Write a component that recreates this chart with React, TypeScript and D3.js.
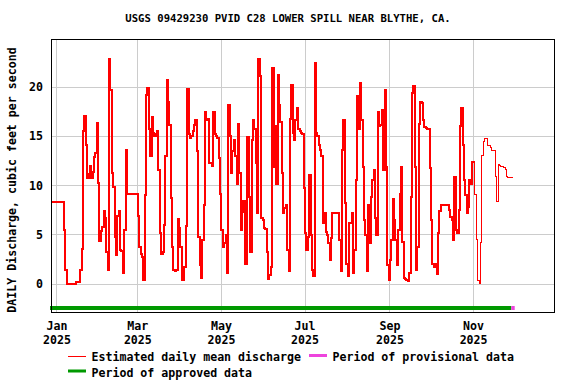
import React from "react";
import * as d3 from "d3";

// ---- data -------------------------------------------------------------
const title = "USGS 09429230 PVID C28 LOWER SPILL NEAR BLYTHE, CA.";
const yTitle = "DAILY Discharge, cubic feet per second";
const yTicks = [0, 5, 10, 15, 20];

// daily mean discharge (cfs), one value per day, starting 2024-12-28
const dec2024 = [8.3, 8.3, 8.3, 8.3];
const jan = [8.3, 8.3, 8.3, 8.3, 8.3, 5.5, 1.4, 0, 0, 0, 0, 0, 0, 0, 0.2, 0.2, 0.2, 1.4, 3.6, 15.5, 17.1, 14.1, 10.8, 11.2, 12.0, 10.8, 11.4, 12.9, 13.3, 16.4, 10.3];
const feb = [4.4, 5.4, 5.8, 7.4, 6.7, 3.3, 1.4, 22.8, 19.7, 11.3, 9.9, 4.8, 3.0, 6.9, 7.4, 3.5, 3.4, 1.1, 5.5, 13.6, 9.2, 9.2, 9.2, 9.2, 9.2, 9.2, 9.2, 9.2];
const mar = [6.9, 3.8, 3.1, 2.8, 0.4, 9.1, 19.2, 19.9, 15.7, 13.0, 17.0, 15.3, 15.0, 15.2, 15.5, 11.6, 5.2, 3.1, 3.3, 6.0, 13.0, 20.7, 18.5, 16.2, 8.7, 3.8, 1.4, 1.3, 1.4, 6.6, 5.7];
const apr = [3.8, 0.4, 0.4, 1.8, 5.9, 19.8, 15.2, 14.8, 15.0, 15.5, 16.2, 16.7, 13.5, 4.8, 2.0, 0.6, 4.5, 8.0, 17.5, 16.7, 16.8, 12.3, 12.3, 12.0, 17.5, 15.2, 15.0, 14.8, 12.8, 9.2];
const may = [5.5, 3.8, 4.2, 5.0, 1.1, 18.2, 15.0, 11.3, 13.5, 14.6, 13.0, 10.2, 16.3, 11.3, 5.5, 7.3, 8.4, 2.1, 2.1, 14.9, 8.9, 3.3, 14.6, 16.7, 15.7, 12.3, 7.2, 22.8, 21.1, 6.7, 6.5];
const jun = [5.7, 5.6, 3.3, 0.5, 0.9, 1.8, 21.9, 11.9, 16.0, 10.2, 21.2, 18.2, 16.5, 11.3, 7.2, 7.7, 8.0, 3.5, 1.3, 16.8, 20.2, 15.3, 14.6, 16.7, 17.9, 15.7, 15.5, 15.3, 15.2, 9.8];
const jul = [5.2, 3.5, 4.8, 11.1, 5.0, 1.4, 0.8, 22.4, 15.3, 15.0, 14.1, 13.6, 13.0, 6.2, 7.2, 5.3, 5.0, 4.2, 2.5, 4.7, 7.2, 7.2, 7.2, 7.2, 7.2, 4.5, 1.3, 13.6, 16.7, 8.2, 2.1];
const aug = [0.8, 6.2, 6.2, 7.2, 1.1, 3.5, 10.6, 19.1, 15.7, 20.4, 16.7, 11.9, 6.5, 5.0, 1.3, 8.0, 4.2, 8.9, 10.6, 11.6, 6.7, 5.0, 17.5, 16.0, 16.2, 17.7, 11.6, 19.7, 11.9, 2.0, 0.4];
const sep = [2.5, 4.5, 8.6, 6.5, 4.5, 2.0, 5.5, 9.2, 11.9, 4.3, 0.6, 0.5, 0.4, 0.3, 1.1, 8.9, 19.4, 20.1, 11.9, 1.4, 3.8, 16.3, 18.5, 18.4, 16.7, 15.9, 15.8, 15.7, 15.7, 11.8];
const oct = [6.5, 2.1, 1.8, 2.1, 1.0, 5.2, 7.4, 8.0, 8.0, 8.0, 8.0, 8.0, 8.0, 7.5, 6.8, 6.5, 4.5, 10.9, 5.5, 5.2, 7.5, 16.0, 17.9, 14.1, 10.6, 9.1, 7.2, 7.8, 10.6, 10.2, 12.4];
const nov = [12.4, 9.1, 4.5, 0.4, 0.1, 4.2, 13.1, 14.5, 14.8, 14.8, 14.1, 14.1, 13.9, 13.6, 13.6, 13.6, 10.9, 8.4, 12.1, 12.0, 11.9, 11.9, 11.8, 11.6, 10.9, 10.8, 10.8, 10.8, 10.8];

const seriesStart = new Date(2024, 11, 28);
const domainEnd = new Date(2025, 11, 30, 1);
const thinFrom = new Date(2025, 10, 1);
const approvedEnd = new Date(2025, 10, 28, 12);
const provisionalEnd = new Date(2025, 11, 1);

const legendItems = [
  { label: "Estimated daily mean discharge", kind: "line", color: "#ff0000" },
  { label: "Period of provisional data", kind: "bar", color: "#ee44dd" },
  { label: "Period of approved data", kind: "bar", color: "#009900" },
];

// ---- layout -----------------------------------------------------------
const W = 576, H = 384;
const L = 51.5, R = 554.5, T = 39.5, B = 312.5;
const FONT = "'DejaVu Sans Mono', monospace";

export default function App() {
  const values = [...dec2024, ...jan, ...feb, ...mar, ...apr, ...may, ...jun, ...jul, ...aug, ...sep, ...oct, ...nov];
  const data = values.map((v, i) => ({ date: d3.timeDay.offset(seriesStart, i), v }));
  const last = data[data.length - 1];
  const dataExt = [...data, { date: d3.timeDay.offset(last.date, 1), v: last.v }];

  const x = d3.scaleTime().domain([seriesStart, domainEnd]).range([L, R]);
  const y = d3.scaleLinear().domain([-2.86, 24.82]).range([B, T]);

  const line = d3.line<{ date: Date; v: number }>()
    .x((d) => x(d.date))
    .y((d) => y(d.v))
    .curve(d3.curveStepAfter);

  const thick = dataExt.filter((d) => d.date <= thinFrom);
  const thin = dataExt.filter((d) => d.date >= thinFrom);

  const xTicks = x.ticks(d3.timeMonth.every(2) as any);
  const crisp = (p: number) => Math.round(p - 0.5) + 0.5;

  return (
    <svg width={W} height={H} style={{ position: "absolute", left: 0, top: 0, background: "#fff" }} fontFamily={FONT} fontWeight="bold">
      <rect x={0} y={0} width={W} height={H} fill="#fff" />
      <text x={288} y={22} textAnchor="middle" fontSize={10.6}>{title}</text>

      {/* grid */}
      <g stroke="#cccccc" strokeWidth={1} shapeRendering="crispEdges">
        {yTicks.map((t) => (
          <line key={"gy" + t} x1={L} x2={R} y1={crisp(y(t))} y2={crisp(y(t))} />
        ))}
        {xTicks.map((t) => (
          <line key={"gx" + t.getTime()} x1={crisp(x(t))} x2={crisp(x(t))} y1={T} y2={B} />
        ))}
      </g>

      {/* status bars */}
      <rect x={L - 1.5} y={306} width={x(approvedEnd) - L + 1.5} height={4} fill="#009900" />
      <rect x={x(approvedEnd)} y={306} width={x(provisionalEnd) - x(approvedEnd)} height={4} fill="#ee44dd" />

      {/* data */}
      <path d={line(thick) || ""} fill="none" stroke="#ff0000" strokeWidth={2} shapeRendering="crispEdges" />
      <path d={line(thin) || ""} fill="none" stroke="#ff0000" strokeWidth={1} shapeRendering="crispEdges" />

      {/* frame */}
      <rect x={L} y={T} width={R - L} height={B - T} fill="none" stroke="#000" strokeWidth={1} shapeRendering="crispEdges" />

      {/* y tick labels */}
      {yTicks.map((t) => (
        <text key={"ly" + t} x={43} y={y(t) + 4} textAnchor="end" fontSize={11.6}>{t}</text>
      ))}
      {/* x tick labels */}
      {xTicks.map((t) => (
        <g key={"lx" + t.getTime()}>
          <text x={x(t)} y={330} textAnchor="middle" fontSize={11.6}>{d3.timeFormat("%b")(t)}</text>
          <text x={x(t)} y={343.5} textAnchor="middle" fontSize={11.6}>{d3.timeFormat("%Y")(t)}</text>
        </g>
      ))}

      {/* y title */}
      <text transform="translate(16,180) rotate(-90)" textAnchor="middle" fontSize={11.6}>{yTitle}</text>

      {/* legend */}
      <g fontSize={11.6}>
        <line x1={68} x2={86} y1={356.5} y2={356.5} stroke={legendItems[0].color} strokeWidth={1} shapeRendering="crispEdges" />
        <text x={91.5} y={360.5}>{legendItems[0].label}</text>
        <rect x={309} y={354} width={18} height={3} fill={legendItems[1].color} />
        <text x={332.5} y={360.5}>{legendItems[1].label}</text>
        <rect x={68} y={369.5} width={18} height={3} fill={legendItems[2].color} />
        <text x={91.5} y={376.5}>{legendItems[2].label}</text>
      </g>
    </svg>
  );
}
